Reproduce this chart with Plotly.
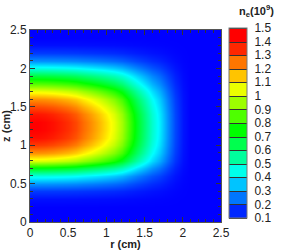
import numpy as np
import plotly.graph_objects as go

# radial grid (cm) and relative radial profile
r_cm = [0.0, 0.1, 0.2, 0.3, 0.4, 0.5, 0.6, 0.7, 0.8, 0.9, 1.0, 1.1, 1.2,
        1.3, 1.4, 1.5, 1.6, 1.7, 1.8, 1.9, 2.0, 2.1, 2.2, 2.3, 2.4, 2.5]
r_shape = [1.0, 1.0, 0.995, 0.985, 0.97, 0.955, 0.93, 0.895, 0.86, 0.82, 0.78,
           0.73, 0.66, 0.57, 0.47, 0.38, 0.30, 0.23, 0.14, 0.07, 0.02, 0.0,
           0.0, 0.0, 0.0, 0.0]

# axial grid (cm) and n_e on axis (r=0), units 1e9
z_cm = [0.0, 0.1, 0.2, 0.3, 0.4, 0.5, 0.6, 0.7, 0.8, 0.9, 1.0, 1.1, 1.2,
        1.3, 1.4, 1.5, 1.6, 1.7, 1.8, 1.9, 2.0, 2.1, 2.2, 2.3, 2.4, 2.5]
ne_axis = [0.1, 0.1, 0.1, 0.12, 0.18, 0.3, 0.48, 0.78, 1.1, 1.3, 1.42, 1.48,
           1.5, 1.5, 1.47, 1.4, 1.3, 1.12, 0.92, 0.72, 0.48, 0.3, 0.18, 0.12,
           0.1, 0.1]

ne_floor = 0.1
cbar_ticks = [0.1, 0.2, 0.3, 0.4, 0.5, 0.6, 0.7, 0.8, 0.9, 1.0, 1.1, 1.2, 1.3, 1.4, 1.5]
cbar_labels = ["0.1", "0.2", "0.3", "0.4", "0.5", "0.6", "0.7", "0.8", "0.9",
               "1", "1.1", "1.2", "1.3", "1.4", "1.5"]
axis_ticks = [0, 0.5, 1, 1.5, 2, 2.5]
axis_labels = ["0", "0.5", "1", "1.5", "2", "2.5"]

ne = ne_floor + np.outer(np.array(ne_axis) - ne_floor, np.array(r_shape))

cscale = [[0.0, "rgb(0,0,255)"], [0.25, "rgb(0,255,255)"], [0.5, "rgb(0,255,0)"],
          [0.75, "rgb(255,255,0)"], [1.0, "rgb(255,0,0)"]]

font = "Liberation Sans, Arial, sans-serif"

fig = go.Figure()
fig.add_trace(go.Heatmap(
    x=r_cm, y=z_cm, z=ne, colorscale=cscale, zmin=0.1, zmax=1.5,
    zsmooth="best", showscale=False, hoverinfo="skip",
))
# invisible contour trace -> supplies the banded colorbar
fig.add_trace(go.Contour(
    x=r_cm, y=z_cm, z=ne, colorscale=cscale, zmin=0.1, zmax=1.5, opacity=0,
    autocontour=False, contours=dict(start=0.1, end=1.5, size=0.1, coloring="fill", showlines=True),
    line=dict(color="#333333", width=1),
    hoverinfo="skip",
    colorbar=dict(
        x=(229 - 30) / 191, xanchor="left", xref="paper", xpad=0,
        y=(222 - 123) / 192, yanchor="middle", ypad=0,
        len=190, lenmode="pixels", thickness=18,
        outlinewidth=1, outlinecolor="#777",
        tickvals=cbar_ticks, ticktext=cbar_labels,
        ticks="outside", ticklen=5, tickcolor="rgba(0,0,0,0)",
        tickfont=dict(family=font, size=12, color="#222"),
    ),
))

fig.add_annotation(
    text="<b>n<sub>e</sub>(10<sup>9</sup>)</b>", xref="paper", yref="paper",
    x=(256 - 30) / 191, y=(222 - 11) / 192, xanchor="center", yanchor="middle",
    showarrow=False, font=dict(family=font, size=11, color="#222"),
)

axis_common = dict(
    range=[0, 2.5], tickvals=axis_ticks, ticktext=axis_labels, automargin=False,
    ticks="inside", ticklen=5, tickcolor="#333", mirror="ticks",
    showline=True, linecolor="#555", linewidth=1, showgrid=False, zeroline=False,
    minor=dict(dtick=0.1, ticks="inside", ticklen=3, tickcolor="#333"),
    tickfont=dict(family=font, size=12, color="#222"),
)
fig.update_xaxes(**axis_common,
                 title=dict(text="<b>r (cm)</b>", font=dict(family=font, size=11, color="#222"), standoff=0))
fig.update_yaxes(**axis_common,
                 title=dict(text="<b>z (cm)</b>", font=dict(family=font, size=11, color="#222"), standoff=2))

fig.update_layout(
    width=282, height=250,
    margin=dict(l=30, r=61, t=30, b=28, autoexpand=False),
    paper_bgcolor="white", plot_bgcolor="white",
    showlegend=False,
)

fig.write_html("out.html", config={"displayModeBar": False},
               post_script="document.body.style.margin='0';document.body.style.overflow='hidden';")
